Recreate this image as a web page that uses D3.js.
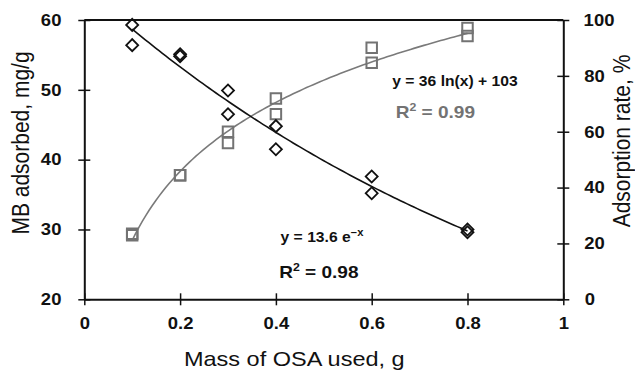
<!DOCTYPE html>
<html><head><meta charset="utf-8">
<script src="https://cdn.jsdelivr.net/npm/d3@7"></script>
<style>
body{margin:0;background:#fff;}
svg{display:block;font-family:"Liberation Sans",Arial,sans-serif;}
.st{transform-box:fill-box;transform-origin:center;transform:scaleX(1.12);}
</style></head>
<body><svg id="c" width="635" height="372"></svg>
<script>
// ---- data ----
const xTicks = [0, 0.2, 0.4, 0.6, 0.8, 1];
const leftTicks = [20, 30, 40, 50, 60];
const rightTicks = [0, 20, 40, 60, 80, 100];
const mass = [0.1, 0.1, 0.2, 0.2, 0.3, 0.3, 0.4, 0.4, 0.6, 0.6, 0.8, 0.8];
const mbAdsorbed = [59.3, 56.4, 55.1, 54.8, 49.9, 46.5, 44.8, 41.5, 37.6, 35.2, 30.0, 29.6];
const adsorptionRate = [23.5, 22.9, 44.4, 44.4, 60.0, 56.0, 71.9, 66.3, 90.1, 84.7, 97.1, 94.3];
const xTitle = "Mass of OSA used, g";
const leftTitle = "MB adsorbed, mg/g";
const rightTitle = "Adsorption rate, %";

const svg = d3.select("#c");
const L = 84.3, R = 563.3, T = 20, B = 299.3;
const x = d3.scaleLinear().domain([0, 1]).range([L, R]);
const yL = d3.scaleLinear().domain([20, 60]).range([B, T]);
const yR = d3.scaleLinear().domain([0, 100]).range([B, T]);
const gray = "#737373";

// frame top line
svg.append("line").attr("x1", L).attr("x2", R).attr("y1", T).attr("y2", T)
  .attr("stroke", "#111").attr("stroke-width", 2);

function styleAxis(g) {
  g.select(".domain").attr("stroke", "#111").attr("stroke-width", 2);
  g.selectAll(".tick line").attr("stroke", "#111").attr("stroke-width", 1.5);
  g.selectAll(".tick text").attr("fill", "#111").attr("font-size", 16.5)
    .attr("font-weight", "bold").attr("font-family", '"Liberation Sans",Arial,sans-serif')
    .attr("class", "st");
}
const gx = svg.append("g").attr("transform", `translate(0,${B})`)
  .call(d3.axisBottom(x).tickValues(xTicks).tickFormat(d3.format("")).tickSizeInner(6).tickSizeOuter(0).tickPadding(12));
styleAxis(gx);
gx.selectAll(".tick line").attr("y1", -6);
const gl = svg.append("g").attr("transform", `translate(${L},0)`)
  .call(d3.axisLeft(yL).tickValues(leftTicks).tickSizeInner(6).tickSizeOuter(0).tickPadding(18));
styleAxis(gl);
gl.selectAll(".tick line").attr("x1", 6);
const gr = svg.append("g").attr("transform", `translate(${R},0)`)
  .call(d3.axisRight(yR).tickValues(rightTicks).tickSizeInner(6).tickSizeOuter(0).tickPadding(16));
styleAxis(gr);
gr.selectAll(".tick line").attr("x1", -6);

// regressions (trendlines fitted from data)
function expFit(xs, ys) {
  const ly = ys.map(Math.log);
  const mx = d3.mean(xs), my = d3.mean(ly);
  const b = d3.sum(xs, (v, i) => (v - mx) * (ly[i] - my)) / d3.sum(xs, v => (v - mx) ** 2);
  const a = Math.exp(my - b * mx);
  return v => a * Math.exp(b * v);
}
function logFit(xs, ys) {
  const lx = xs.map(Math.log);
  const mx = d3.mean(lx), my = d3.mean(ys);
  const a = d3.sum(lx, (v, i) => (v - mx) * (ys[i] - my)) / d3.sum(lx, v => (v - mx) ** 2);
  const b = my - a * mx;
  return v => a * Math.log(v) + b;
}
const fE = expFit(mass, mbAdsorbed), fL = logFit(mass, adsorptionRate);
const xs = d3.range(0, 101).map(i => d3.min(mass) + (d3.max(mass) - d3.min(mass)) * i / 100);
svg.append("path").attr("d", d3.line().x(d => x(d)).y(d => yR(fL(d)))(xs))
  .attr("fill", "none").attr("stroke", "#7a7a7a").attr("stroke-width", 1.6);
svg.append("path").attr("d", d3.line().x(d => x(d)).y(d => yL(fE(d)))(xs))
  .attr("fill", "none").attr("stroke", "#111").attr("stroke-width", 1.6);

// markers
const sq = d3.symbol().type(d3.symbolSquare).size(110);
svg.append("g").selectAll("path").data(mass).join("path")
  .attr("d", sq).attr("transform", (d, i) => `translate(${x(d)},${yR(adsorptionRate[i])})`)
  .attr("fill", "none").attr("stroke", gray).attr("stroke-width", 2);
const dm = d3.symbol().type(d3.symbolSquare).size(72);
svg.append("g").selectAll("path").data(mass).join("path")
  .attr("d", dm).attr("transform", (d, i) => `translate(${x(d)},${yL(mbAdsorbed[i])}) rotate(45)`)
  .attr("fill", "none").attr("stroke", "#111").attr("stroke-width", 1.8);

// annotations
function ann(xp, yp, size, color) {
  return svg.append("text").attr("x", xp).attr("y", yp).attr("font-size", size)
    .attr("font-weight", "bold").attr("fill", color).attr("class", "st");
}
ann(399, 86, 14, "#111").text("y = 36 ln(x) + 103");
let t = ann(400, 117.7, 17, gray); t.append("tspan").text("R");
t.append("tspan").attr("font-size", 11).attr("dy", -7).text("2");
t.append("tspan").attr("dy", 7).text(" = 0.99");
t = ann(285, 241.7, 14, "#111"); t.append("tspan").text("y = 13.6 e");
t.append("tspan").attr("font-size", 10).attr("dy", -6).text("−x");
t = ann(283.5, 277.7, 17, "#111"); t.append("tspan").text("R");
t.append("tspan").attr("font-size", 11).attr("dy", -7).text("2");
t.append("tspan").attr("dy", 7).text(" = 0.98");

// axis titles
svg.append("text").attr("x", 294.3).attr("y", 366.5).attr("text-anchor", "middle")
  .attr("font-size", 21).attr("fill", "#111").attr("class", "st").text(xTitle);
svg.append("g").attr("transform", "translate(29,143) scale(1.12,1) rotate(-90)")
  .append("text").attr("text-anchor", "middle").attr("font-size", 21).attr("fill", "#111").text(leftTitle);
svg.append("g").attr("transform", "translate(630,141) scale(1.12,1) rotate(-90)")
  .append("text").attr("text-anchor", "middle").attr("font-size", 21).attr("fill", "#111").text(rightTitle);
</script></body></html>
